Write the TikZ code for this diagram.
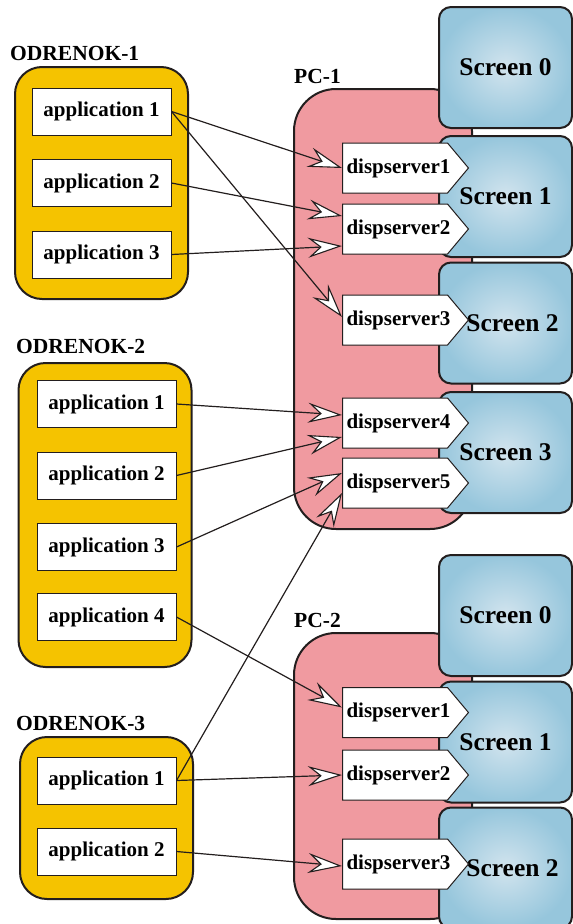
\documentclass[tikz,border=0pt]{standalone}
\usepackage{fontspec}
\setmainfont{Liberation Serif}
\usetikzlibrary{calc,shapes.symbols,arrows.meta}
\definecolor{odryellow}{RGB}{245,195,0}
\definecolor{pcpink}{RGB}{240,154,160}
\definecolor{scrin}{RGB}{210,228,238}
\definecolor{scrout}{RGB}{150,198,220}
\definecolor{edge}{RGB}{35,30,30}

\tikzset{
	odr/.style={draw=edge, line width=2pt, fill=odryellow, rounded corners=27pt, minimum width=173pt},
	app/.style={draw=edge, line width=1pt, fill=white, minimum width=139pt, minimum height=47pt, font=\fontsize{21}{23}\selectfont\bfseries},
	pcbox/.style={draw=edge, line width=2pt, fill=pcpink, rounded corners=42pt, minimum width=178pt},
	screen/.style={draw=edge, line width=2pt, rounded corners=12pt, inner color=scrin, outer color=scrout, minimum width=133pt, minimum height=121pt, font=\fontsize{25.5}{28}\selectfont\bfseries},
	disp/.style={signal, signal to=east, signal pointer angle=100, draw=edge, line width=1pt, fill=white, minimum height=50pt, inner xsep=4pt, text width=97pt, align=left, anchor=west, font=\fontsize{21}{23}\selectfont\bfseries},
	grp/.style={anchor=base west, inner sep=0pt, font=\fontsize{21.5}{23}\selectfont\bfseries},
	link/.style={line width=1.2pt, draw=edge, -{Stealth[length=34pt, width=20pt, inset=12pt, fill=white, line width=1.1pt]}}
}

\begin{document}
\begin{tikzpicture}[x=1pt, y=-1pt]
	\useasboundingbox (0, 0) rectangle (573, 924);
	\clip (0, 0) rectangle (573, 924);

	% PC-1
	\node[pcbox, minimum height=440pt] at (383, 309) (pc1) {};
	\node[screen] at (505.5, 67.5) (pc1s0) {Screen 0};
	\node[screen] at (505.5, 196.5) (pc1s1) {Screen 1};
	\node[screen] at (505.5, 323) (pc1s2) {\hspace*{14pt}Screen 2};
	\node[screen] at (505.5, 452.5) (pc1s3) {Screen 3};
	\node[disp] at (342, 168) (pc1ds1) {dispserver1};
	\node[disp] at (342, 229) (pc1ds2) {dispserver2};
	\node[disp] at (342, 320) (pc1ds3) {dispserver3};
	\node[disp] at (342, 423) (pc1ds4) {dispserver4};
	\node[disp] at (342, 483) (pc1ds5) {dispserver5};
	\node[grp] at (294, 83) (pc1lab) {PC-1};

	% PC-2
	\node[pcbox, minimum height=286pt] at (383, 776) (pc2) {};
	\node[screen] at (505.5, 615.5) (pc2s0) {Screen 0};
	\node[screen] at (505.5, 742) (pc2s1) {Screen 1};
	\node[screen] at (505.5, 868) (pc2s2) {\hspace*{14pt}Screen 2};
	\node[disp] at (342, 712.5) (pc2ds1) {dispserver1};
	\node[disp] at (342, 775) (pc2ds2) {dispserver2};
	\node[disp] at (342, 864) (pc2ds3) {dispserver3};
	\node[grp] at (294, 627) (pc2lab) {PC-2};

	% ODRENOK-1
	\node[odr, minimum height=232pt] at (101.5, 183) (odr1) {};
	\node[grp] at (10, 60) (odr1lab) {ODRENOK-1};
	\node[app] at (101.5, 111.5) (o1a1) {application 1};
	\node[app] at (101.5, 183) (o1a2) {application 2};
	\node[app] at (101.5, 254.5) (o1a3) {application 3};

	% ODRENOK-2
	\node[odr, minimum height=304pt] at (105, 515) (odr2) {};
	\node[grp] at (16, 353) (odr2lab) {ODRENOK-2};
	\node[app] at (106.5, 404) (o2a1) {application 1};
	\node[app] at (106.5, 475.5) (o2a2) {application 2};
	\node[app] at (106.5, 547) (o2a3) {application 3};
	\node[app] at (106.5, 617) (o2a4) {application 4};

	% ODRENOK-3
	\node[odr, minimum height=162pt] at (106.5, 818) (odr3) {};
	\node[grp] at (16, 730) (odr3lab) {ODRENOK-3};
	\node[app] at (106.5, 780.5) (o3a1) {application 1};
	\node[app] at (106.5, 851.5) (o3a2) {application 2};

	\draw[link] (o1a1.east) -- (pc1ds1.west);
	\draw[link] (o1a1.east) -- ([yshift=3pt]pc1ds3.west);
	\draw[link] (o1a2.east) -- ([yshift=13pt]pc1ds2.west);
	\draw[link] (o1a3.east) -- ([yshift=-17pt]pc1ds2.west);
	\draw[link] (o2a1.east) -- ([yshift=8pt]pc1ds4.west);
	\draw[link] (o2a2.east) -- ([yshift=-14pt]pc1ds4.west);
	\draw[link] (o2a3.east) -- ([yshift=10pt]pc1ds5.west);
	\draw[link] (o3a1.east) -- ([yshift=-10pt]pc1ds5.west);
	\draw[link] (o2a4.east) -- ([yshift=5pt]pc2ds1.west);
	\draw[link] (o3a1.east) -- (pc2ds2.west);
	\draw[link] (o3a2.east) -- ([yshift=-2pt]pc2ds3.west);
\end{tikzpicture}
\end{document}
